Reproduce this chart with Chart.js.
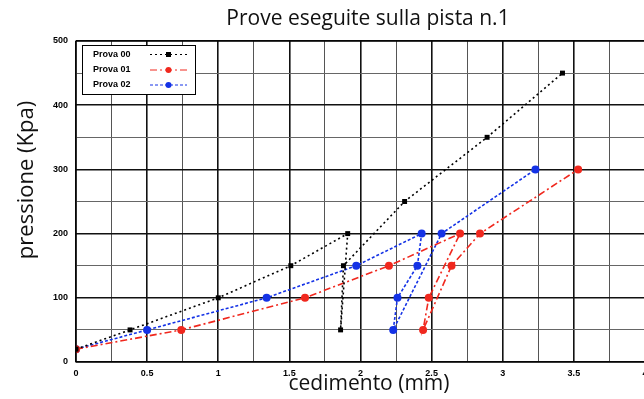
<!DOCTYPE html>
<html>
<head>
<meta charset="utf-8">
<script src="https://cdn.jsdelivr.net/npm/chart.js@4/dist/chart.umd.min.js"></script>
<style>
html,body{margin:0;padding:0;background:#fff;overflow:hidden;}
#wrap{position:relative;width:660px;height:399px;}
</style>
</head>
<body>
<div id="wrap"><canvas id="c" width="660" height="399"></canvas></div>
<script>
// ---- data ----
const chartTitle = "Prove eseguite sulla pista n.1";
const xTitle = "cedimento (mm)";
const yTitle = "pressione (Kpa)";
const seriesNames = ["Prova 00", "Prova 01", "Prova 02"];
const prova00X = [0, 0.38, 1.00, 1.51, 1.91, 1.86, 1.88, 2.31, 2.89, 3.42];
const prova00Y = [20, 50, 100, 150, 200, 50, 150, 250, 350, 450];
const prova01X = [0, 0.74, 1.61, 2.20, 2.70, 2.48, 2.44, 2.64, 2.84, 3.53];
const prova01Y = [20, 50, 100, 150, 200, 100, 50, 150, 200, 300];
const prova02X = [0, 0.50, 1.34, 1.97, 2.43, 2.40, 2.26, 2.23, 2.57, 3.23];
const prova02Y = [20, 50, 100, 150, 200, 150, 100, 50, 200, 300];
const xMin = 0, xMax = 4, xStep = 0.25, xLabelStep = 0.5;
const yMin = 0, yMax = 500, yStep = 50, yLabelStep = 100;

function pts(xs, ys){ return xs.map((x,i)=>({x:x, y:ys[i]})); }

const tickFont = {family:"'Liberation Sans', Arial, sans-serif", size:9, weight:'bold'};

const styles = [
  {color:'#000000', dash:[2,3], pointStyle:'rect', r:3.5},
  {color:'#f0281e', dash:[7,3,2,3], pointStyle:'circle', r:4},
  {color:'#1432e6', dash:[3,2], pointStyle:'circle', r:4}
];
const allX = [prova00X, prova01X, prova02X];
const allY = [prova00Y, prova01Y, prova02Y];

const datasets = seriesNames.map((n,i)=>({
  label:n,
  data:pts(allX[i], allY[i]),
  showLine:true,
  borderColor:styles[i].color,
  backgroundColor:styles[i].color,
  borderWidth:1.6,
  borderDash:styles[i].dash,
  pointStyle:styles[i].pointStyle,
  pointRadius:styles[i].r,
  pointBorderWidth:0,
  fill:false,
  tension:0
}));

function isMult(v, step){ const q = v/step; return Math.abs(q-Math.round(q))<1e-6; }

const decor = {
  id:'decor',
  afterDraw(chart){
    const ctx = chart.ctx, a = chart.chartArea;
    ctx.save();
    // border
    ctx.strokeStyle='#000'; ctx.lineWidth=1.2; ctx.setLineDash([]);
    ctx.strokeRect(a.left, a.top, a.right-a.left, a.bottom-a.top);
    // titles
    ctx.fillStyle='#111';
    ctx.textAlign='center'; ctx.textBaseline='middle';
    ctx.font="21px 'Open Sans', 'Noto Sans', sans-serif";
    ctx.fillText(chartTitle, 368, 19);
    ctx.font="21px 'Open Sans', 'Noto Sans', sans-serif";
    ctx.fillText(xTitle, 369, 384);
    ctx.save();
    ctx.translate(27, 180);
    ctx.rotate(-Math.PI/2);
    ctx.font="22px 'Open Sans', 'Noto Sans', sans-serif";
    ctx.fillText(yTitle, 0, 0);
    ctx.restore();
    // legend
    const lx=82, ly=45, lw=113, lh=49;
    ctx.fillStyle='#fff';
    ctx.fillRect(lx, ly, lw, lh);
    ctx.strokeStyle='#000'; ctx.lineWidth=1;
    ctx.strokeRect(lx+0.5, ly+0.5, lw, lh);
    const rowY=[54.5, 70, 85];
    chart.data.datasets.forEach((ds,i)=>{
      ctx.fillStyle='#000';
      ctx.font="bold 9px 'Liberation Sans', Arial, sans-serif";
      ctx.textAlign='left'; ctx.textBaseline='middle';
      ctx.fillText(ds.label, 93, rowY[i]);
      ctx.strokeStyle=ds.borderColor; ctx.lineWidth=1;
      ctx.setLineDash(ds.borderDash);
      ctx.beginPath(); ctx.moveTo(150, rowY[i]); ctx.lineTo(187, rowY[i]); ctx.stroke();
      ctx.setLineDash([]);
      ctx.fillStyle=ds.borderColor;
      if(ds.pointStyle==='rect'){ ctx.fillRect(166, rowY[i]-2.5, 5, 5); }
      else { ctx.beginPath(); ctx.arc(168.5, rowY[i], 3, 0, Math.PI*2); ctx.fill(); }
    });
    ctx.restore();
  }
};

new Chart(document.getElementById('c'), {
  type:'scatter',
  data:{datasets:datasets},
  options:{
    responsive:false,
    animation:false,
    layout:{padding:{left:0, right:15, top:41, bottom:0}},
    plugins:{legend:{display:false}, title:{display:false}, tooltip:{enabled:false}},
    scales:{
      x:{
        type:'linear', min:xMin, max:xMax,
        afterFit(s){ s.height = 37; },
        border:{display:false},
        grid:{
          drawTicks:false,
          color:(c)=> isMult(c.tick.value, xLabelStep) ? '#111' : '#555',
          lineWidth:(c)=> isMult(c.tick.value, xLabelStep) ? 1.6 : 1
        },
        ticks:{
          stepSize:xStep, autoSkip:false, maxRotation:0, padding:6,
          color:'#000', font:tickFont,
          callback:(v)=> isMult(v, xLabelStep) ? String(v) : ''
        }
      },
      y:{
        type:'linear', min:yMin, max:yMax,
        afterFit(s){ s.width = 76; },
        border:{display:false},
        grid:{
          drawTicks:false,
          color:(c)=> isMult(c.tick.value, yLabelStep) ? '#111' : '#666',
          lineWidth:(c)=> isMult(c.tick.value, yLabelStep) ? 1.6 : 1
        },
        ticks:{
          stepSize:yStep, autoSkip:false, padding:8,
          color:'#000', font:tickFont,
          callback:(v)=> isMult(v, yLabelStep) ? String(v) : ''
        }
      }
    }
  },
  plugins:[decor]
});
</script>
</body>
</html>
